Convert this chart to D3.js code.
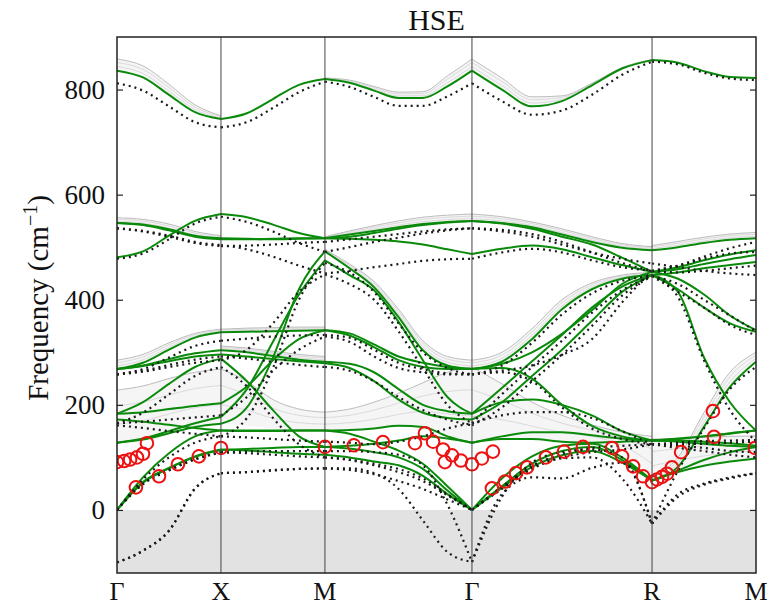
<!DOCTYPE html>
<html>
<head>
<meta charset="utf-8">
<script src="https://cdn.jsdelivr.net/npm/d3@7"></script>
<style>
  body { margin: 0; background: #fff; }
  svg { display: block; }
</style>
</head>
<body>
<div id="container"></div>
<script>
// high symmetry path
const kTicks = [0, 0.5, 1.0, 1.7071, 2.5731, 3.0731]
const kLabels = ['Γ', 'X', 'M', 'Γ', 'R', 'M']
const yTicks = [0, 200, 400, 600, 800]

// sampled k points for each segment
const segK = [
  [0, 0.125, 0.25, 0.375, 0.5],
  [0.5, 0.625, 0.75, 0.875, 1.0],
  [1.0, 1.118, 1.236, 1.354, 1.471, 1.589, 1.7071],
  [1.7071, 1.851, 1.996, 2.140, 2.284, 2.429, 2.5731],
  [2.5731, 2.698, 2.823, 2.948, 3.0731]
]

// HSE bands (green), one list per segment
const hseGX = [
  [836,823,790,757,744], [481,492,522,550,563], [546,542,532,520,515], [546,543,534,522,517],
  [268,280,305,328,338], [268,275,287,298,304], [268,274,283,292,296], [183,205,240,272,288],
  [172,168,162,156,151], [183,186,192,198,203], [128,134,146,158,164], [128,136,150,165,177],
  [0,62,108,140,151], [0,53,80,102,115], [0,52,79,101,114]
]
const hseXM = [
  [744,755,782,809,820], [563,557,543,527,517], [515,515,516,517,517], [517,516,515,516,517],
  [338,339,340,341,342], [304,300,293,286,282], [296,292,287,283,279], [288,245,190,140,120],
  [151,151,151,151,151], [203,235,285,325,342], [164,195,290,420,492], [177,230,320,410,475],
  [151,150,150,151,151], [115,113,110,107,105], [114,116,118,120,120]
]
const hseMG = [
  [820,813,798,784,784,806,836], [517,524,531,538,544,548,550], [517,520,527,535,542,547,550],
  [517,516,514,511,505,496,487], [342,336,315,292,280,272,268], [282,278,262,230,200,188,183],
  [279,270,245,210,185,175,172], [120,117,110,100,78,37,0], [151,152,155,160,158,140,128],
  [342,332,310,285,272,268,268], [492,460,424,367,304,275,268], [475,447,418,358,285,215,183],
  [151,145,130,113,88,45,0], [105,100,92,85,65,30,0], [120,122,126,132,140,136,128]
]
const hseGR = [
  [836,800,768,778,808,840,856], [550,546,538,524,510,499,494], [550,545,535,520,505,480,453],
  [487,497,503,496,481,466,453], [268,282,325,382,420,440,447], [183,232,283,333,385,425,447],
  [172,205,255,305,360,415,447], [0,42,82,104,112,90,56], [128,140,148,148,142,136,132],
  [268,270,250,200,160,140,132], [268,278,300,335,380,430,453], [0,45,88,112,120,95,56],
  [0,60,102,122,126,100,56], [128,135,135,130,128,130,132], [183,205,210,200,180,150,132]
]
const hseRM = [
  [856,851,835,824,822], [494,500,508,514,517], [453,462,475,486,494], [453,458,468,477,485],
  [447,452,460,466,472], [447,420,385,355,339], [447,415,290,205,151], [56,82,158,234,282],
  [56,72,84,92,98], [132,132,130,127,122], [453,440,410,370,342], [56,75,95,110,120],
  [132,136,140,145,151], [132,130,126,122,120], [132,135,140,146,151]
]

// reference bands (black dotted)
const pbeGX = [
  [812,798,768,738,728], [478,488,515,545,558], [536,530,520,508,502], [536,531,522,510,504],
  [258,268,290,312,322], [258,265,276,286,292], [258,263,272,280,285], [165,185,220,255,272],
  [161,156,150,145,140], [165,168,172,176,180], [-100,-77,-39,41,70], [-100,-78,-40,40,70],
  [0,58,100,128,140], [0,50,76,97,110], [0,49,75,96,109]
]
const pbeXM = [
  [728,738,765,795,815], [558,548,530,508,491], [502,503,505,508,510], [504,496,482,465,450],
  [322,326,330,332,333], [292,288,282,276,272], [285,305,355,415,448], [272,235,175,125,100],
  [140,138,135,132,130], [180,215,265,305,330], [70,72,75,78,79], [70,72,76,78,79],
  [140,175,270,400,470], [110,108,105,102,100], [109,111,112,112,112]
]
const pbeMG = [
  [815,805,786,769,769,787,812], [510,515,520,525,530,534,536], [491,500,510,518,526,532,536],
  [450,455,462,468,474,477,478], [470,452,415,355,300,270,258], [448,430,400,340,270,200,165],
  [333,328,305,280,268,260,258], [330,320,292,270,262,258,258], [272,265,245,215,190,172,161],
  [130,128,125,130,140,155,165], [79,79,70,40,-20,-80,-99], [112,112,110,105,85,10,-99],
  [100,95,85,72,55,28,0], [100,96,88,78,60,30,0], [79,76,68,55,40,20,0]
]
const pbeGR = [
  [812,778,752,760,790,828,853], [536,530,520,505,490,478,469], [536,533,525,510,490,470,455],
  [478,490,497,490,475,462,455], [258,275,318,372,412,436,445], [165,220,272,322,375,418,445],
  [161,195,245,295,350,408,445], [258,265,275,295,325,395,455], [258,262,245,195,155,135,125],
  [165,180,186,186,175,150,125], [-99,30,62,60,80,90,-26], [-99,25,90,110,115,100,-26],
  [0,40,78,98,100,60,-26], [0,42,80,100,110,115,125], [0,44,84,106,118,122,125]
]
const pbeRM = [
  [853,848,832,821,818], [469,462,455,450,447], [455,465,478,488,491], [455,465,482,498,510],
  [445,415,385,352,333], [445,405,285,190,130], [445,430,400,370,340], [455,452,455,460,465],
  [125,122,118,112,110], [125,125,126,128,130], [-26,75,155,230,272], [-26,30,50,62,70],
  [-26,25,48,60,70], [125,118,112,105,100], [125,128,131,132,133]
]

// gray spread of intermediate results: [lower, upper]
const fanGX = [
  [[836,823,790,757,744], [858,845,810,771,750]],
  [[546,542,532,520,515], [556,553,544,530,522]],
  [[268,280,305,328,338], [285,296,318,336,344]],
  [[128,134,146,158,164], [228,236,250,262,268]]
]
const fanXM = [
  [[338,339,340,341,342], [344,346,347,348,348]],
  [[304,300,293,286,282], [312,308,302,296,292]],
  [[164,160,155,152,151], [268,245,210,192,186]]
]
const fanMG = [
  [[820,813,798,784,784,806,836], [822,818,806,795,796,826,858]],
  [[517,524,531,538,544,548,550], [520,531,541,550,557,561,563]],
  [[492,460,424,367,304,275,268], [496,468,435,382,322,292,285]],
  [[151,152,155,160,158,140,128], [186,192,205,222,242,262,272]]
]
const fanGR = [
  [[836,800,768,778,808,840,856], [858,822,786,788,812,842,857]],
  [[550,546,538,524,510,499,494], [563,558,548,535,520,507,501]],
  [[268,282,325,382,420,440,447], [285,300,345,400,432,447,452]],
  [[128,135,135,130,128,110,60], [272,240,205,180,162,148,140]]
]
const fanRM = [
  [[494,500,508,514,517], [503,511,519,525,528]],
  [[56,72,84,92,98], [135,136,138,140,141]],
  [[56,82,158,234,282], [62,100,185,262,300]]
]

// experimental points (red circles)
const expK = [0, 0.034, 0.063, 0.096, 0.125, 0.144, 0.091, 0.202, 0.293, 0.394, 0.5,
  1.0, 1.139, 1.279, 1.433, 1.481, 1.520, 1.568, 1.577, 1.611, 1.654, 1.707, 1.755, 1.808,
  1.803, 1.866, 1.919, 1.972, 2.063, 2.150, 2.241, 2.381, 2.429, 2.482, 2.530, 2.573,
  2.597, 2.621, 2.645, 2.669, 2.713, 2.866, 2.871, 3.068]
const expF = [91, 93, 96, 100, 107, 127, 43, 64, 87, 102, 118,
  120, 123, 129, 127, 146, 130, 115, 91, 104, 94, 87, 98, 111,
  41, 54, 70, 81, 100, 111, 120, 118, 102, 83, 64, 53,
  58, 63, 69, 81, 110, 188, 139, 118]

const hseSegs = [hseGX, hseXM, hseMG, hseGR, hseRM]
const pbeSegs = [pbeGX, pbeXM, pbeMG, pbeGR, pbeRM]
const fanSegs = [fanGX, fanXM, fanMG, fanGR, fanRM]

const W = 769, H = 606
const margin = { left: 117, right: 13, top: 37, bottom: 33 }
const width = W - margin.left - margin.right
const height = H - margin.top - margin.bottom

const svg = d3.select('#container').append('svg')
  .attr('width', W).attr('height', H)
  .style('font-family', '"Liberation Serif", "DejaVu Serif", serif')

svg.append('defs').append('clipPath').attr('id', 'plotclip')
  .append('rect').attr('width', width).attr('height', height)

const g = svg.append('g').attr('transform', `translate(${margin.left},${margin.top})`)

const x = d3.scaleLinear().domain([0, kTicks[kTicks.length - 1]]).range([0, width])
const y = d3.scaleLinear().domain([-120, 900]).range([height, 0])

const plot = g.append('g').attr('clip-path', 'url(#plotclip)')

// shaded negative region
plot.append('rect')
  .attr('x', 0).attr('y', y(0))
  .attr('width', width).attr('height', height - y(0))
  .attr('fill', '#e2e2e2')

const line = d3.line().x(d => x(d[0])).y(d => y(d[1])).curve(d3.curveMonotoneX)
const area = d3.area().x(d => x(d[0])).y0(d => y(d[1])).y1(d => y(d[2])).curve(d3.curveMonotoneX)

// gray fans: pale fill plus a few thin strands
const strands = [0.35, 0.7, 1]
fanSegs.forEach((fans, s) => {
  fans.forEach(f => {
    const pts = segK[s].map((k, i) => [k, f[0][i], f[1][i]])
    plot.append('path').attr('d', area(pts))
      .attr('fill', '#f5f5f5').attr('stroke', 'none')
    strands.forEach(t => {
      plot.append('path')
        .attr('d', line(pts.map(p => [p[0], p[1] + (p[2] - p[1]) * t])))
        .attr('fill', 'none').attr('stroke', t === 1 ? '#bdbdbd' : '#d3d3d3')
        .attr('stroke-width', t === 1 ? 1 : 0.8)
    })
  })
})

// vertical lines at high symmetry points
g.selectAll('.kline').data(kTicks.slice(1, -1)).enter().append('line')
  .attr('class', 'kline')
  .attr('x1', d => x(d)).attr('x2', d => x(d))
  .attr('y1', 0).attr('y2', height)
  .attr('stroke', '#444').attr('stroke-width', 1)

// green HSE bands
hseSegs.forEach((bands, s) => {
  bands.forEach(b => {
    plot.append('path')
      .attr('d', line(segK[s].map((k, i) => [k, b[i]])))
      .attr('fill', 'none').attr('stroke', '#0a8a0a').attr('stroke-width', 2)
  })
})

// dotted reference bands
pbeSegs.forEach((bands, s) => {
  bands.forEach(b => {
    plot.append('path')
      .attr('d', line(segK[s].map((k, i) => [k, b[i]])))
      .attr('fill', 'none').attr('stroke', '#1a1a1a').attr('stroke-width', 2.2)
      .attr('stroke-dasharray', '2,4')
  })
})

// experiment
plot.selectAll('.exp').data(expK).enter().append('circle')
  .attr('class', 'exp')
  .attr('cx', d => x(d))
  .attr('cy', (d, i) => y(expF[i]))
  .attr('r', 6.3)
  .attr('fill', 'none').attr('stroke', '#ee1111').attr('stroke-width', 2)

// frame
g.append('rect').attr('width', width).attr('height', height)
  .attr('fill', 'none').attr('stroke', '#222').attr('stroke-width', 1.5)

// y axis (ticks inside, both sides)
const yAxisL = d3.axisLeft(y).tickValues(yTicks).tickSize(-6).tickPadding(12)
const yAxisR = d3.axisRight(y).tickValues(yTicks).tickSize(-6).tickFormat('')
const yl = g.append('g').call(yAxisL)
g.append('g').attr('transform', `translate(${width},0)`).call(yAxisR)
g.selectAll('.domain').remove()
g.selectAll('.tick line').attr('stroke', '#222').attr('stroke-width', 1.2)
yl.selectAll('.tick text')
  .attr('font-size', 27).attr('fill', '#111')
  .attr('font-family', '"Liberation Serif", serif')

// x labels
g.selectAll('.klabel').data(kTicks).enter().append('text')
  .attr('class', 'klabel')
  .attr('x', d => x(d)).attr('y', height + 27)
  .attr('text-anchor', 'middle')
  .attr('font-size', 26).attr('fill', '#111')
  .text((d, i) => kLabels[i])

// title
svg.append('text')
  .attr('x', margin.left + width / 2).attr('y', 30)
  .attr('text-anchor', 'middle')
  .attr('font-size', 30).attr('fill', '#111')
  .text('HSE')

// y label
const yt = svg.append('text')
  .attr('transform', `translate(48,298) rotate(-90)`)
  .attr('text-anchor', 'middle')
  .attr('font-size', 29).attr('fill', '#111')
yt.append('tspan').text('Frequency (cm')
yt.append('tspan').attr('dy', -11).attr('font-size', 20).text('−1')
yt.append('tspan').attr('dy', 11).text(')')
</script>
</body>
</html>
